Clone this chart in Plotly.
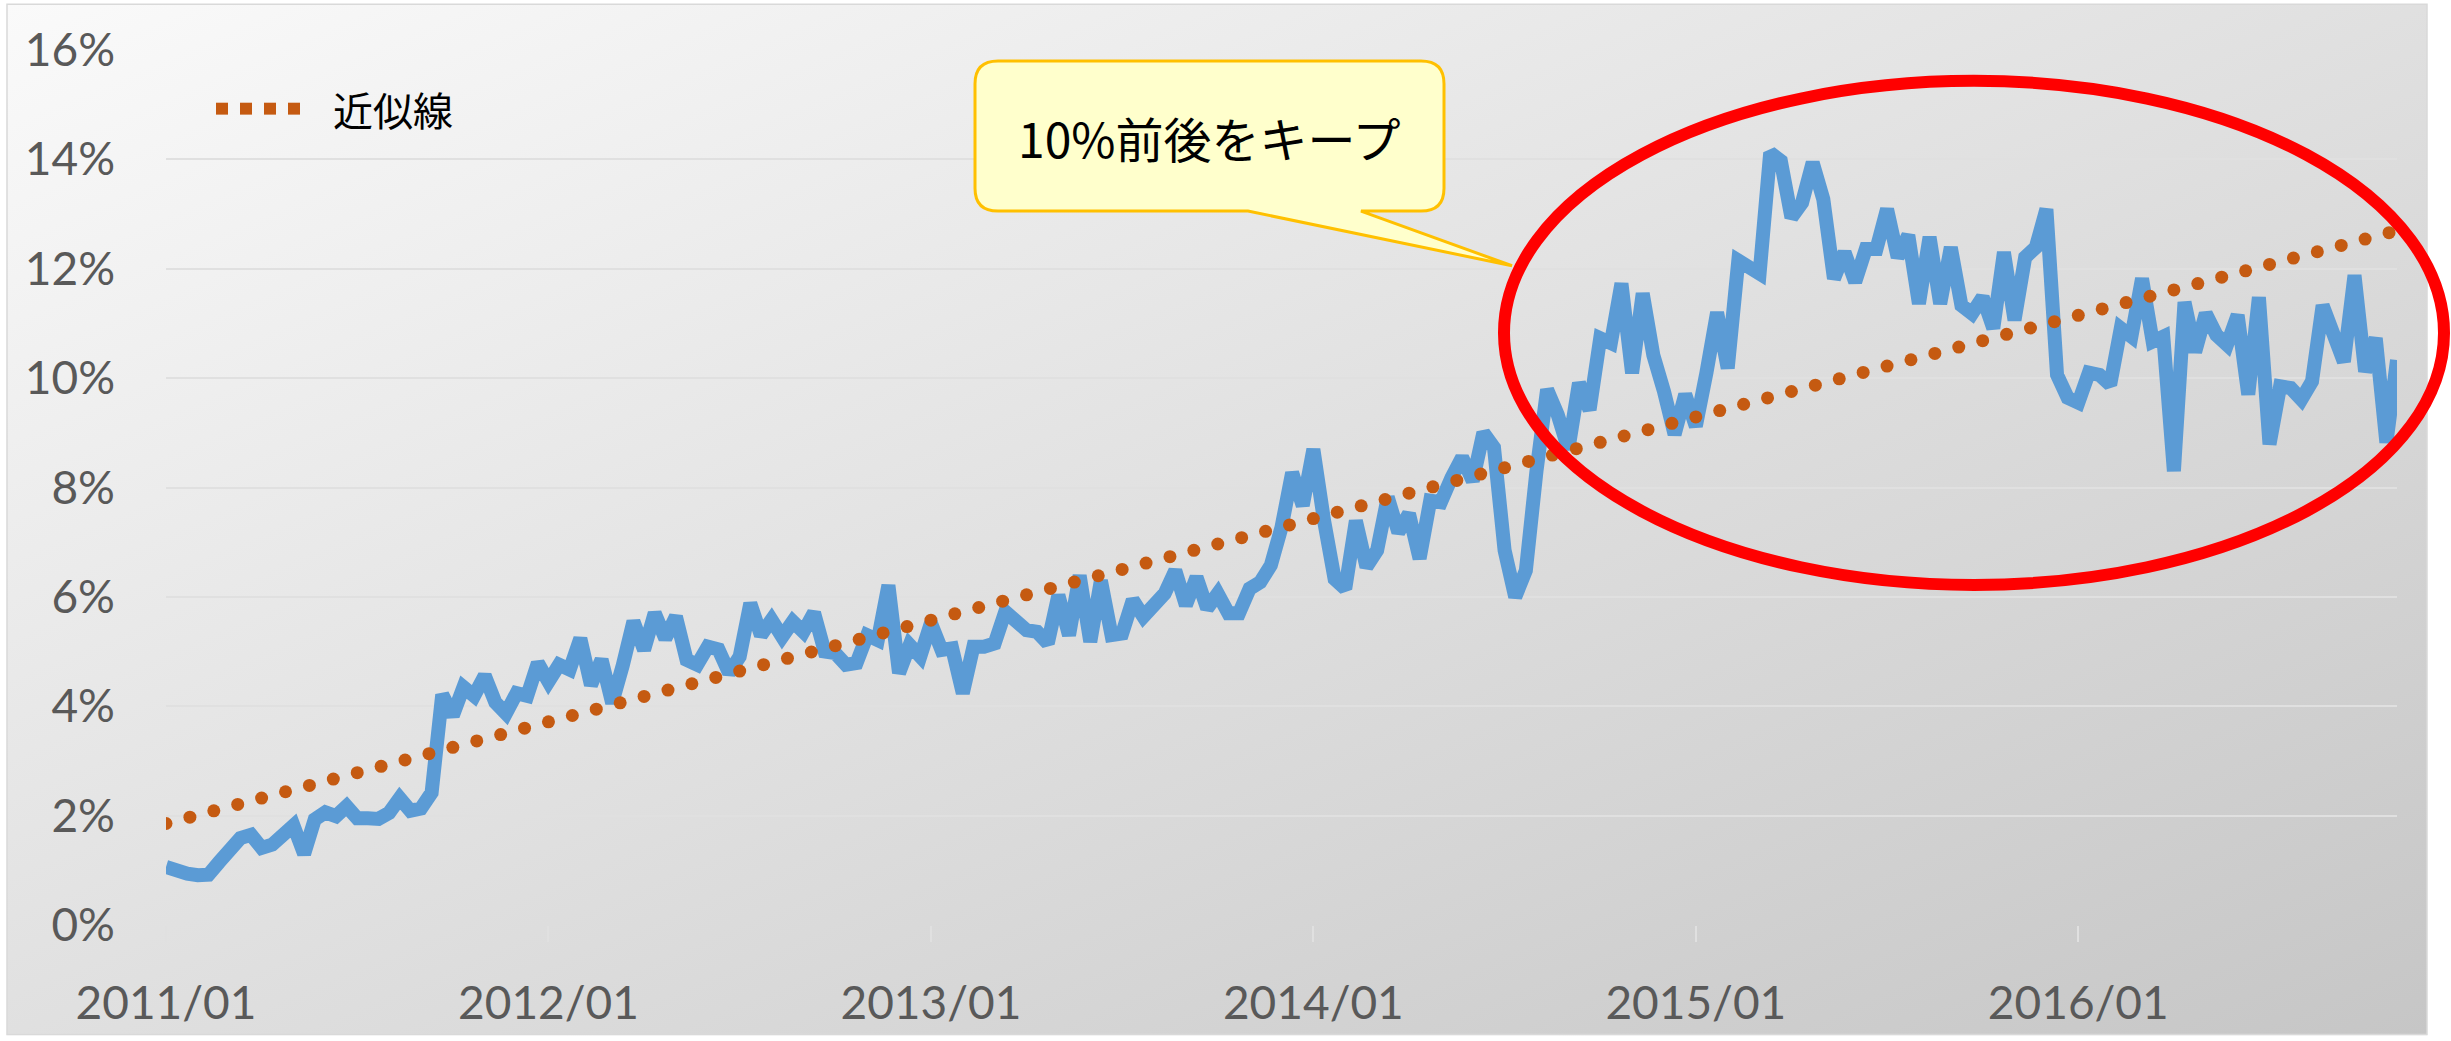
import base64
import numpy as np
import plotly.graph_objects as go

# ---- data: share (%) sampled three times a month (1st, 11th, 21st) ----
SHARE_2011 = [1.06, 0.98, 0.94, 0.91, 0.92, 1.15, 1.42, 1.59, 1.65, 1.41, 1.47, 1.65,
              1.82, 1.30, 1.93, 2.06, 1.99, 2.17, 1.95, 1.95, 1.94, 2.05, 2.32, 2.09,
              2.13, 2.42, 4.21, 3.83, 4.35, 4.19, 4.56, 4.07, 3.87, 4.24, 4.19, 4.79]
SHARE_2012 = [4.45, 4.76, 4.67, 5.24, 4.39, 4.85, 4.06, 4.75, 5.55, 5.03, 5.70, 5.24,
              5.64, 4.85, 4.76, 5.09, 5.04, 4.61, 4.91, 5.88, 5.30, 5.58, 5.27, 5.55,
              5.36, 5.71, 5.00, 4.97, 4.76, 4.79, 5.30, 5.21, 6.21, 4.61, 5.12, 4.91]
SHARE_2013 = [5.52, 5.03, 5.06, 4.24, 5.09, 5.09, 5.15, 5.73, 5.55, 5.39, 5.36, 5.15,
              6.03, 5.30, 6.39, 5.18, 6.30, 5.30, 5.33, 5.94, 5.64, 5.88, 6.06, 6.48,
              5.85, 6.36, 5.79, 6.06, 5.70, 5.70, 6.15, 6.27, 6.58, 7.27, 8.27, 7.67]
SHARE_2014 = [8.70, 7.40, 6.33, 6.15, 7.39, 6.55, 6.85, 7.82, 7.18, 7.52, 6.70, 7.76,
              7.73, 8.18, 8.55, 8.12, 9.00, 8.73, 6.85, 6.00, 6.48, 8.30, 9.79, 9.33,
              8.70, 9.91, 9.42, 10.73, 10.64, 11.73, 10.09, 11.55, 10.42, 9.76, 8.97, 9.70]
SHARE_2015 = [9.12, 10.10, 11.20, 10.18, 12.15, 12.03, 11.91, 14.12, 13.97, 12.94, 13.21, 13.94,
              13.27, 11.82, 12.30, 11.76, 12.36, 12.36, 13.09, 12.21, 12.61, 11.36, 12.58, 11.36,
              12.39, 11.33, 11.18, 11.48, 10.91, 12.30, 11.06, 12.21, 12.39, 13.09, 10.06, 9.64]
SHARE_2016 = [9.55, 10.10, 10.06, 9.88, 10.91, 10.76, 11.82, 10.67, 10.76, 8.30, 11.39, 10.48,
              11.18, 10.79, 10.61, 11.15, 9.70, 11.48, 8.79, 9.85, 9.82, 9.61, 9.94, 11.33,
              10.73, 10.30, 11.88, 10.12, 10.73, 8.82, 10.33]

YEAR_LABELS = ["2011/01", "2012/01", "2013/01", "2014/01", "2015/01", "2016/01"]
POINTS_PER_YEAR = 36
Y_TICKS = [0, 2, 4, 6, 8, 10, 12, 14, 16]
LEGEND_TEXT = "近似線"
CALLOUT_TEXT = "10%前後をキープ"

values = SHARE_2011 + SHARE_2012 + SHARE_2013 + SHARE_2014 + SHARE_2015 + SHARE_2016
idx = np.arange(len(values))

# linear trendline (least squares, as in the spreadsheet)
slope, intercept = np.polyfit(idx, values, 1)
trend_x = np.arange(0, len(values) - 1 + 1e-9, 2.25)
trend_y = slope * trend_x + intercept

# ---- layout geometry (pixels) ----
W, H = 2451, 1041
L, R, T, B = 166, 2397, 50, 930


def px(x):
    return (x - L) / (R - L)


def py(y):
    return (B - y) / (B - T)


BLUE = "#5B9BD5"
ORANGE = "#C55A11"
GRID = "#E0E0E0"
TXT = "#595959"

fig = go.Figure()
fig.add_trace(go.Scatter(x=idx, y=values, mode="lines",
                         line=dict(color=BLUE, width=14), hoverinfo="skip"))
fig.add_trace(go.Scatter(x=trend_x, y=trend_y, mode="markers",
                         marker=dict(color=ORANGE, size=13, line=dict(width=0)),
                         hoverinfo="skip"))

# background gradient
svg = ('<svg xmlns="http://www.w3.org/2000/svg" width="2420" height="1037" '
       'viewBox="0 0 2420 1037" preserveAspectRatio="none"><defs>'
       '<linearGradient id="g" x1="0" y1="0" x2="1" y2="1">'
       '<stop offset="0" stop-color="#FAFAFA"/><stop offset="1" stop-color="#C6C6C6"/>'
       '</linearGradient></defs><rect width="2420" height="1037" fill="url(#g)"/></svg>')
src = "data:image/svg+xml;base64," + base64.b64encode(svg.encode()).decode()

shapes = []
# chart frame
shapes.append(dict(type="rect", xref="paper", yref="paper", x0=px(7), x1=px(2427),
                   y0=py(1040), y1=py(4), line=dict(color="#D9D9D9", width=1.5),
                   fillcolor="rgba(0,0,0,0)", layer="below"))
# legend squares
for k in range(4):
    x0 = 216 + 24 * k
    shapes.append(dict(type="rect", xref="paper", yref="paper", x0=px(x0), x1=px(x0 + 12),
                       y0=py(115), y1=py(103), line=dict(width=0), fillcolor=ORANGE))
# callout box
bx0, bx1, by0, by1, r = 975, 1444, 61, 212, 23


def P(x, y):
    return f"{px(x):.5f},{py(y):.5f}"


path = (f"M{P(bx0 + r, by0)} L{P(bx1 - r, by0)} Q{P(bx1, by0)} {P(bx1, by0 + r)} "
        f"L{P(bx1, by1 - r)} Q{P(bx1, by1)} {P(bx1 - r, by1)} L{P(1361, by1)} "
        f"L{P(1512, 267)} L{P(1248, by1)} L{P(bx0 + r, by1)} Q{P(bx0, by1)} {P(bx0, by1 - r)} "
        f"L{P(bx0, by0 + r)} Q{P(bx0, by0)} {P(bx0 + r, by0)} Z")
shapes.append(dict(type="path", xref="paper", yref="paper", path=path,
                   fillcolor="#FFFFCC", line=dict(color="#FFC000", width=3)))
# red ellipse
shapes.append(dict(type="circle", xref="paper", yref="paper",
                   x0=px(1504), x1=px(2444), y0=py(588), y1=py(81),
                   line=dict(color="#FF0000", width=12), fillcolor="rgba(0,0,0,0)"))

annotations = [
    dict(xref="paper", yref="paper", x=px(331), y=py(109), xanchor="left", yanchor="middle",
         text=LEGEND_TEXT, showarrow=False,
         font=dict(family="Noto Sans CJK JP", size=40, color="#000000")),
    dict(xref="paper", yref="paper", x=px(1209), y=py(137), xanchor="center", yanchor="middle",
         text=CALLOUT_TEXT, showarrow=False,
         font=dict(family="Noto Sans CJK JP", size=48, color="#000000")),
]

fig.update_layout(
    width=W, height=H,
    margin=dict(l=L, r=W - R, t=T, b=H - B, pad=0),
    paper_bgcolor="#FFFFFF", plot_bgcolor="rgba(0,0,0,0)",
    showlegend=False,
    images=[dict(source=src, xref="paper", yref="paper", x=px(7), y=py(4),
                 sizex=px(2427) - px(7), sizey=py(4) - py(1041),
                 xanchor="left", yanchor="top", sizing="stretch", layer="below")],
    shapes=shapes, annotations=annotations,
    xaxis=dict(range=[0, len(values) - 1], tickmode="array",
               tickvals=[POINTS_PER_YEAR * k for k in range(len(YEAR_LABELS))],
               ticktext=YEAR_LABELS, showgrid=False, zeroline=False,
               showline=False, ticks="outside", ticklen=16, tickwidth=1.5, tickcolor=GRID,
               ticklabelstandoff=22,
               tickfont=dict(family="Lato", size=46, color=TXT)),
    yaxis=dict(range=[0, 16], tickmode="array", tickvals=Y_TICKS,
               ticktext=[f"{v}%" for v in Y_TICKS], showgrid=True, gridcolor=GRID,
               gridwidth=2, zeroline=False, showline=False, ticks="",
               ticklabelstandoff=50,
               tickfont=dict(family="Lato", size=46, color=TXT)),
)

fig.write_html("out.html", config={"displayModeBar": False},
               post_script="document.body.style.margin='0';")
